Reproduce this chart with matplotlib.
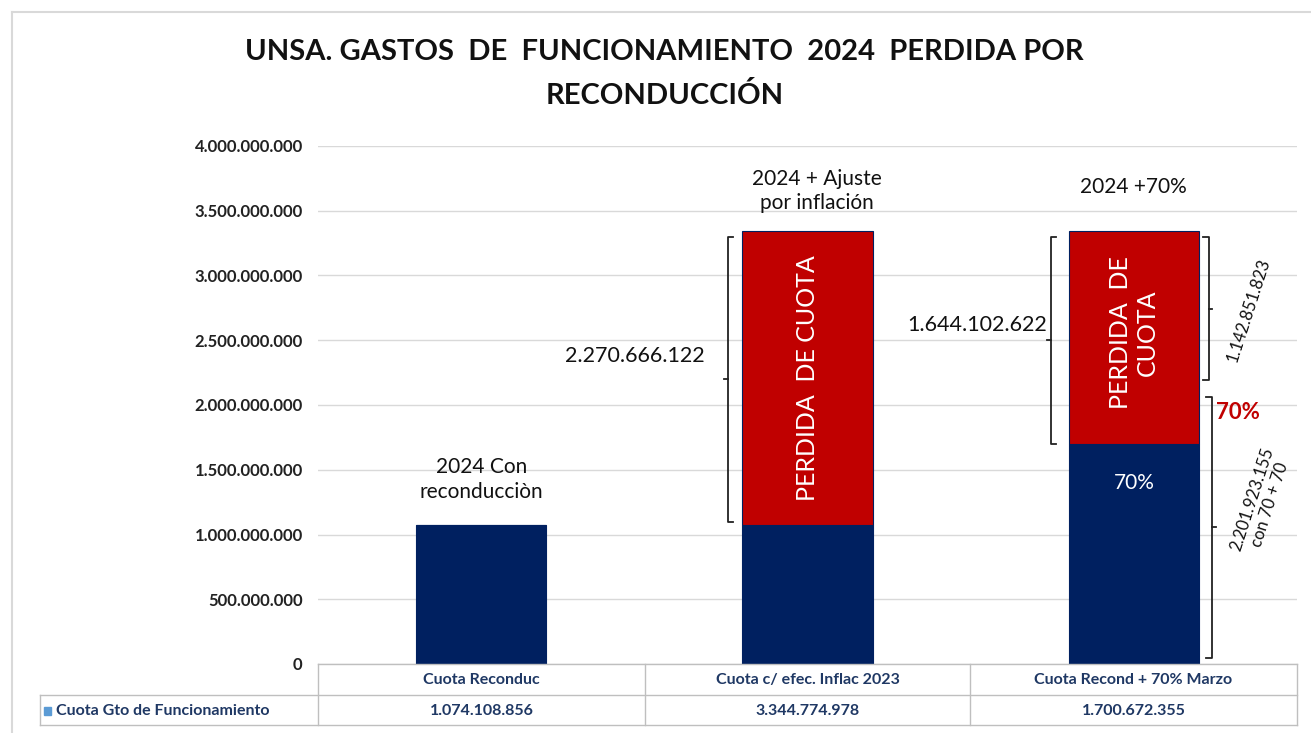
"""
UNSA gastos de funcionamiento 2024: stacked bars with loss annotations and data table.
"""
import matplotlib.pyplot as plt
from matplotlib.patches import Rectangle
from matplotlib.lines import Line2D

plt.rcParams['font.family'] = ['Lato', 'DejaVu Sans']

categories = ['Cuota Reconduc', 'Cuota c/ efec. Inflac 2023', 'Cuota Recond + 70% Marzo']
table_values = [1074108856, 3344774978, 1700672355]
base_values = [1074108856, 1074108856, 1700672355]
loss_values = [0, 2270666122, 1644102623]
series_name = 'Cuota Gto de Funcionamiento'
yticks = [0, 500000000, 1000000000, 1500000000, 2000000000,
          2500000000, 3000000000, 3500000000, 4000000000]

NAVY = '#002060'
RED = '#C00000'
TXT = '#1F3864'


def fmt(v):
    return f'{v:,.0f}'.replace(',', '.')


fig = plt.figure(figsize=(13.11, 7.33), dpi=100)
ax = fig.add_axes([318 / 1311, 1 - 664 / 733, (1297 - 318) / 1311, (664 - 146) / 733])

x = list(range(len(categories)))
ax.bar(x, base_values, width=0.4, color=NAVY, edgecolor=NAVY, linewidth=0.8, zorder=3)
ax.bar(x, loss_values, width=0.4, bottom=base_values, color=RED, edgecolor=NAVY,
       linewidth=0.8, zorder=3)

ax.set_xlim(-0.5, 2.5)
ax.set_ylim(0, 4000000000)
ax.set_yticks(yticks)
ax.set_yticklabels([fmt(v) for v in yticks], fontsize=12, fontweight='bold', color='#222222')
ax.set_xticks([])
ax.tick_params(axis='y', length=0, pad=11)
ax.grid(axis='y', color='#d9d9d9', linewidth=1, zorder=0)
for s in ax.spines.values():
    s.set_visible(False)

# title
fig.text(0.507, 1 - 52 / 733, 'UNSA. GASTOS  DE  FUNCIONAMIENTO  2024  PERDIDA POR',
         ha='center', va='center', fontsize=21, fontweight='bold', color='#111111')
fig.text(0.507, 1 - 96 / 733, 'RECONDUCCIÓN', ha='center', va='center',
         fontsize=21, fontweight='bold', color='#111111')

# text over bars
ax.text(0, 1250000000, '2024 Con\nreconducciòn', ha='center', va='bottom', fontsize=15,
        linespacing=1.3, color='#111111')
ax.text(1.03, 3480000000, '2024 + Ajuste\npor inflación', ha='center', va='bottom',
        fontsize=15, linespacing=1.3, color='#111111')
ax.text(2, 3680000000, '2024 +70%', ha='center', va='center', fontsize=15, color='#111111')

# labels inside bars
top = base_values[1] + loss_values[1]
ax.text(1, (base_values[1] + top) / 2, 'PERDIDA  DE CUOTA', rotation=90, ha='center',
        va='center', fontsize=18, color='white', zorder=5)
ax.text(2, base_values[2] + loss_values[2] * 0.52, 'PERDIDA  DE\nCUOTA', rotation=90,
        ha='center', va='center', fontsize=18, color='white', linespacing=1.2, zorder=5)
ax.text(2, 1400000000, '70%', ha='center', va='center', fontsize=15, color='white', zorder=5)
ax.text(2.32, 1940000000, '70%', ha='center', va='center', fontsize=16, fontweight='bold',
        color=RED)


def bracket(xb, y0, y1, side, tick=0.018):
    # side = -1 opens to the right (tick points left), +1 the other way
    ym = (y0 + y1) / 2
    ax.plot([xb - side * tick, xb, xb, xb - side * tick], [y0, y0, y1, y1],
            color='#222222', linewidth=1.3, clip_on=False, zorder=4)
    ax.plot([xb, xb + side * tick * 0.6], [ym, ym], color='#222222', linewidth=1.3,
            clip_on=False, zorder=4)


bracket(0.755, 1100000000, 3300000000, -1)
bracket(1.745, 1700000000, 3300000000, -1)
bracket(2.23, 2190000000, 3300000000, 1)
bracket(2.24, 50000000, 2060000000, 1)

ax.text(0.47, 2380000000, fmt(loss_values[1]), ha='center', va='center', fontsize=15.5,
        color='#111111')
ax.text(1.52, 2620000000, '1.644.102.622', ha='center', va='center', fontsize=15.5,
        color='#111111')
ax.text(2.35, 2730000000, '1.142.851.823', rotation=72, ha='center', va='center',
        fontsize=12, color='#111111')
ax.text(2.39, 1250000000, '2.201.923.155\ncon 70 + 70', rotation=72, ha='center',
        va='center', fontsize=12, color='#111111', linespacing=1.2)

# data table under the axes
line_kw = dict(color='#bfbfbf', linewidth=1, transform=fig.transFigure)
col_edges = [318, 645, 970, 1297]
y_head_top, y_mid, y_bot = 664, 695, 725
fig.add_artist(Line2D([318 / 1311, 1297 / 1311], [1 - y_head_top / 733] * 2, **line_kw))
fig.add_artist(Line2D([40 / 1311, 1297 / 1311], [1 - y_mid / 733] * 2, **line_kw))
fig.add_artist(Line2D([40 / 1311, 1297 / 1311], [1 - y_bot / 733] * 2, **line_kw))
for cx in col_edges:
    fig.add_artist(Line2D([cx / 1311] * 2, [1 - y_head_top / 733, 1 - y_bot / 733], **line_kw))
fig.add_artist(Line2D([40 / 1311] * 2, [1 - y_mid / 733, 1 - y_bot / 733], **line_kw))

for i, cat in enumerate(categories):
    cx = (col_edges[i] + col_edges[i + 1]) / 2 / 1311
    fig.text(cx, 1 - 680 / 733, cat, ha='center', va='center', fontsize=11.5,
             fontweight='bold', color=TXT)
    fig.text(cx, 1 - 711 / 733, fmt(table_values[i]), ha='center', va='center',
             fontsize=11.5, fontweight='bold', color=TXT)

fig.add_artist(Rectangle((44 / 1311, 1 - 715 / 733), 7 / 1311, 8 / 733,
                         color='#5B9BD5', transform=fig.transFigure))
fig.text(56 / 1311, 1 - 711 / 733, series_name, ha='left', va='center', fontsize=11.5,
         fontweight='bold', color=TXT)

# outer frame
frame_kw = dict(color='#d9d9d9', linewidth=1.5, transform=fig.transFigure)
fig.add_artist(Line2D([12 / 1311, 1], [1 - 12 / 733] * 2, **frame_kw))
fig.add_artist(Line2D([12 / 1311] * 2, [1 - 12 / 733, 0], **frame_kw))

fig.savefig('out.png', dpi=100)
